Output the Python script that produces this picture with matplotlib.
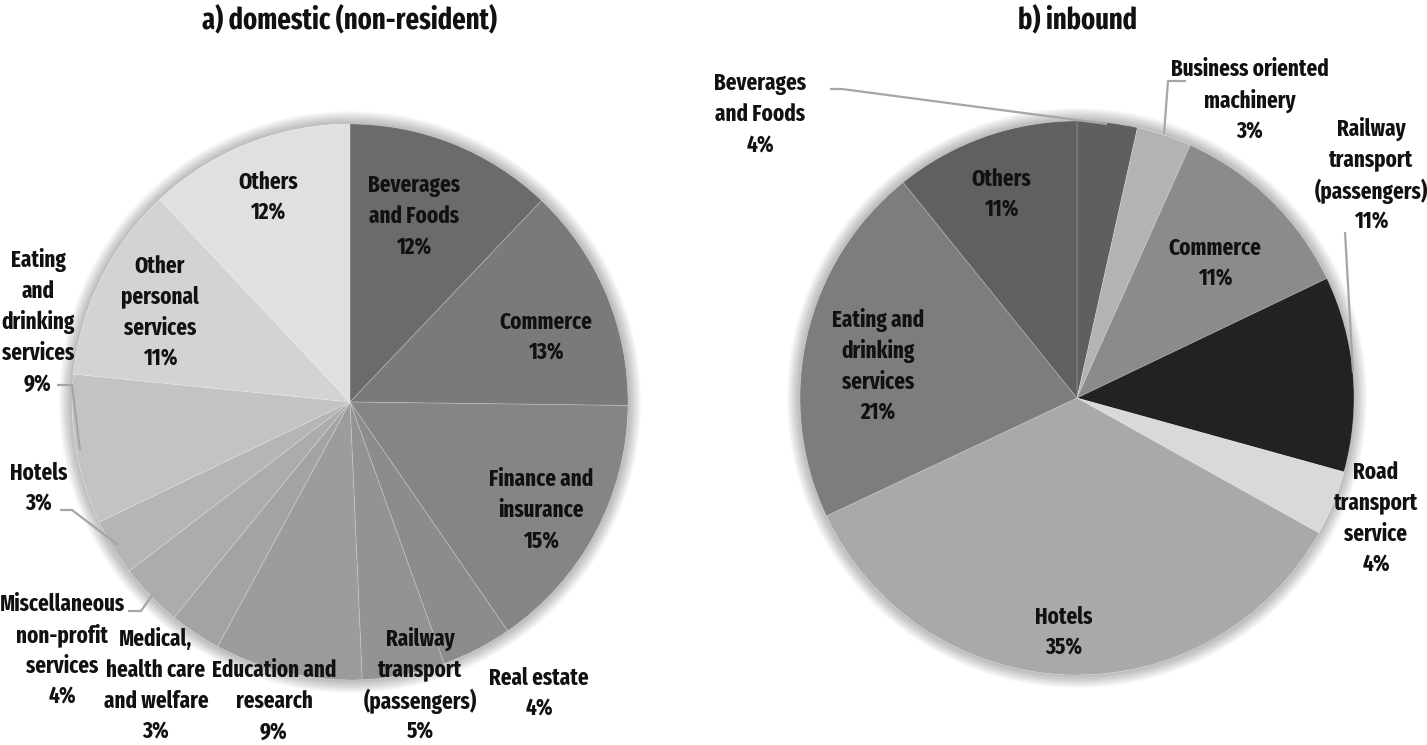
import matplotlib
matplotlib.use("Agg")
import matplotlib.pyplot as plt
from matplotlib.patches import Circle
from matplotlib import font_manager as fm

# ---------------- data ----------------
dom_labels = ["Beverages\nand Foods", "Commerce", "Finance and\ninsurance", "Real estate",
              "Railway\ntransport\n(passengers)", "Education and\nresearch",
              "Medical,\nhealth care\nand welfare", "Miscellaneous\nnon-profit\nservices",
              "Hotels", "Eating\nand\ndrinking\nservices", "Other\npersonal\nservices", "Others"]
dom_values = [12.1, 13.1, 15.2, 4.1, 4.8, 8.6, 3.0, 3.7, 3.3, 8.7, 11.4, 12.0]
dom_colors = ["#6b6b6b", "#7a7a7a", "#858585", "#8c8c8c", "#939393", "#9c9c9c",
              "#a3a3a3", "#acacac", "#b5b5b5", "#c3c3c3", "#d3d3d3", "#e0e0e0"]

inb_labels = ["Beverages\nand Foods", "Business oriented\nmachinery", "Commerce",
              "Railway\ntransport\n(passengers)", "Road\ntransport\nservice", "Hotels",
              "Eating and\ndrinking\nservices", "Others"]
inb_values = [3.5, 3.2, 11.2, 11.4, 3.8, 34.9, 21.2, 10.8]
inb_colors = ["#5f5f5f", "#b3b3b3", "#8b8b8b", "#222222", "#d9d9d9", "#a9a9a9",
              "#7d7d7d", "#606060"]

titles = ["a) domestic (non-resident)", "b) inbound"]


# ---------------- font: pick a condensed bold face if one is installed ----------------
def pick_font():
    best = None
    best_score = -1
    for f in fm.fontManager.ttflist:
        key = (f.name + " " + f.fname + " " + str(f.stretch)).lower()
        w = f.weight if isinstance(f.weight, int) else (700 if 'bold' in str(f.weight) else 400)
        if w < 600 or 'italic' in key or f.style != 'normal':
            continue
        score = -1
        flat = key.replace(' ', '').replace('-', '')
        if 'extracondensed' in flat:
            score = 4
        elif 'semicondensed' in flat:
            score = 2
        elif 'condensed' in key or 'narrow' in key:
            score = 3
        if w > 750:
            score -= 0.5
        if score > best_score:
            best_score = score
            best = f.fname
    return best


FONT_FILE = pick_font()


def fp(size):
    if FONT_FILE:
        return fm.FontProperties(fname=FONT_FILE, size=size)
    return fm.FontProperties(family='DejaVu Sans', weight='bold', size=size, stretch='condensed')


# ---------------- layout (pixel coords, y up) ----------------
W, H = 1427, 745
fig = plt.figure(figsize=(W / 100, H / 100), dpi=100)
ax = fig.add_axes([0, 0, 1, 1])
ax.set_xlim(0, W)
ax.set_ylim(0, H)
ax.set_aspect('equal')
ax.axis('off')

# calibrate font size so that "Beverages" is ~92 px wide
renderer = fig.canvas.get_renderer()
probe = ax.text(0, 0, "Beverages", fontproperties=fp(20))
pw = probe.get_window_extent(renderer).width
probe.remove()
FS = 20 * 92.0 / pw
probe = ax.text(0, 0, titles[0], fontproperties=fp(20))
tw = probe.get_window_extent(renderer).width
probe.remove()
TFS = 20 * 295.0 / tw
LINE = 31.0  # px between label lines


def py(y):
    return H - y


def draw_pie(values, colors, cx, cy, r):
    for i in range(12):
        ax.add_patch(Circle((cx, py(cy)), r + 1 + i * 1.1, color='#000000',
                            alpha=0.022, lw=0, zorder=1))
    ax.add_patch(Circle((cx, py(cy)), r, color='white', lw=0, zorder=1.5))
    ax.pie(values, colors=colors, startangle=90, counterclock=False,
           center=(cx, py(cy)), radius=r, frame=True,
           wedgeprops=dict(linewidth=0.6, edgecolor=(1, 1, 1, 0.22), zorder=2))


draw_pie(dom_values, dom_colors, 350, 402, 278)
draw_pie(inb_values, inb_colors, 1077, 398, 277)
ax.set_xlim(0, W)
ax.set_ylim(0, H)
ax.axis('off')

# titles
ax.text(350, py(20), titles[0], ha='center', va='center', fontproperties=fp(TFS),
        color='#111111')
ax.text(1077, py(20), titles[1], ha='center', va='center', fontproperties=fp(TFS),
        color='#111111')

# label positions (pixel centres), in data order
dom_pos = [(414, 214), (546, 335), (541, 508), (539, 691), (420, 683), (274, 699),
           (156, 683), (62, 648), (39, 486), (38, 320), (160, 310), (268, 195)]
inb_pos = [(760, 112), (1250, 98), (1215, 261), (1371, 173), (1376, 516),
           (1064, 630), (878, 364), (1001, 192)]

for lab, v, (x, y) in zip(dom_labels + inb_labels, dom_values + inb_values, dom_pos + inb_pos):
    lines = f"{lab}\n{round(v)}%".split("\n")
    n = len(lines)
    for i, line in enumerate(lines):
        yy = y + (i - (n - 1) / 2.0) * LINE
        ax.text(x, py(yy), line, ha='center', va='center_baseline',
                fontproperties=fp(FS), color='#111111', zorder=5)

# leader lines
LL = dict(color='#a6a6a6', lw=1.6, zorder=4, solid_capstyle='butt')
leaders = [
    [(57, 385), (72, 385), (80, 450)],          # eating (domestic)
    [(60, 510), (72, 510), (118, 545)],         # hotels (domestic)
    [(128, 611), (141, 611), (153, 594)],       # misc
    [(830, 89), (842, 89), (1107, 124)],        # beverages (inbound)
    [(1186, 81), (1168, 81), (1164, 134)],      # business machinery
    [(1345, 232), (1353, 372)],                 # railway (inbound)
]
for pts in leaders:
    ax.plot([p[0] for p in pts], [py(p[1]) for p in pts], **LL)

fig.savefig("out.png", dpi=100, facecolor='white')
